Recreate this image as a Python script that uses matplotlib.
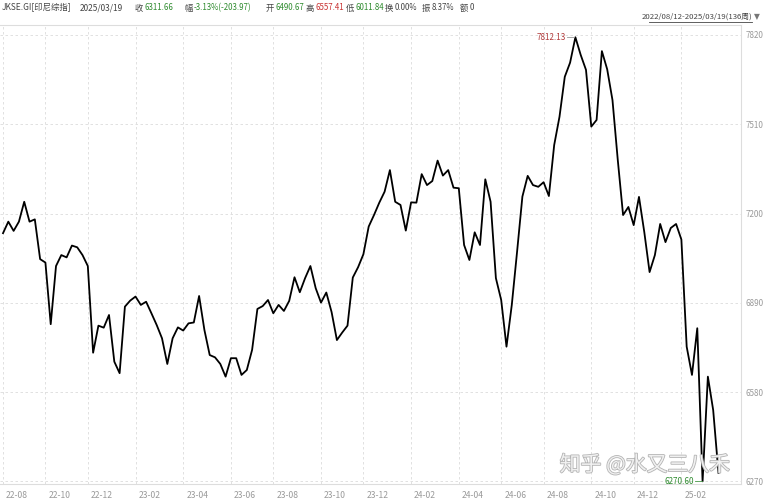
import matplotlib
matplotlib.use("Agg")
import matplotlib.pyplot as plt
import matplotlib.transforms as mtransforms
import matplotlib.patheffects as pe
import numpy as np

plt.rcParams['font.family'] = ['Noto Sans CJK SC', 'DejaVu Sans']

# weekly closes, JKSE 2022/08/12 - 2025/03/19 (136 weeks)
closes = [
    7132, 7172, 7140, 7172, 7241, 7172, 7180, 7042, 7030, 6816,
    7018, 7056, 7048, 7089, 7083, 7056, 7018, 6717, 6811, 6804,
    6848, 6686, 6646, 6877, 6898, 6912, 6883, 6894, 6854, 6813,
    6767, 6678, 6767, 6805, 6794, 6819, 6822, 6914, 6796, 6709,
    6701, 6678, 6634, 6698, 6698, 6640, 6657, 6727, 6869, 6879,
    6900, 6854, 6883, 6862, 6897, 6979, 6927, 6976, 7018, 6941,
    6891, 6926, 6858, 6761, 6787, 6811, 6978, 7014, 7059, 7155,
    7195, 7238, 7276, 7351, 7241, 7230, 7141, 7239, 7238, 7337,
    7299, 7313, 7384, 7332, 7351, 7290, 7288, 7091, 7039, 7135,
    7091, 7319, 7241, 6976, 6900, 6738, 6883, 7068, 7259, 7331,
    7299, 7293, 7309, 7261, 7438, 7536, 7675, 7724, 7812.13, 7751,
    7699, 7502, 7525, 7764, 7701, 7594, 7386, 7195, 7223, 7160,
    7258, 7136, 6997, 7056, 7164, 7101, 7150, 7164, 7110, 6738,
    6640, 6802, 6270.60, 6634, 6518, 6300,
]

month_labels = ['22-08', '22-10', '22-12', '23-02', '23-04', '23-06', '23-08', '23-10',
                '23-12', '24-02', '24-04', '24-06', '24-08', '24-10', '24-12', '25-02']
month_pos = [0, 8, 16, 25, 34, 43, 51, 60, 68, 77, 86, 94, 102, 111, 119, 128]
y_ticks = [6270, 6580, 6890, 7200, 7510, 7820]

# (label, value, value colour, x start in px)
header = [
    ('JKSE.GI[印尼综指]', '', None, 2),
    ('2025/03/19', '', None, 80),
    ('收', '6311.66', '#2e8b2e', 135),
    ('幅', '-3.13%(-203.97)', '#2e8b2e', 184),
    ('开', '6490.67', '#2e8b2e', 266),
    ('高', '6557.41', '#c83232', 306),
    ('低', '6011.84', '#2e8b2e', 346),
    ('换', '0.00%', '#444444', 385),
    ('振', '8.37%', '#444444', 422),
    ('额', '0', '#444444', 460),
]

W, H = 764, 500
fig = plt.figure(figsize=(W / 100, H / 100), dpi=100)
ax = fig.add_axes([0, 16 / H, 741 / W, (484 - 25) / H])

x = np.arange(len(closes))
ax.plot(x, closes, color='black', lw=1.3)

ax.set_xlim(-0.57, 139.25)
ax.set_ylim(6261.3, 7854.7)

ax.set_yticks(y_ticks)
ax.yaxis.tick_right()
ax.tick_params(axis='y', length=0, pad=3, labelsize=5.8, labelcolor='#9a9a9a')
ax.set_xticks(month_pos, month_labels)
ax.tick_params(axis='x', length=0, pad=5, labelsize=6.2, labelcolor='#9a9a9a')
offset = mtransforms.ScaledTranslation(3 / 100, 0, fig.dpi_scale_trans)
for lbl in ax.get_xticklabels():
    lbl.set_ha('left')
    lbl.set_transform(lbl.get_transform() + offset)

ax.grid(True, color='#dcdcdc', lw=0.6, linestyle=(0, (3, 3)))
for s in ax.spines.values():
    s.set_color('#dddddd')
    s.set_linewidth(0.8)
ax.spines['left'].set_visible(False)

# max / min markers
pk = int(np.argmax(closes))
lo = int(np.argmin(closes))
ax.plot([pk - 1.5, pk - 0.2], [closes[pk]] * 2, color='#999999', lw=0.6)
ax.text(pk - 1.7, closes[pk], f'{closes[pk]:.2f}', ha='right', va='center',
        fontsize=5.8, color='#b03a3a')
ax.plot([lo - 1.5, lo - 0.2], [closes[lo]] * 2, color='#4a9a4a', lw=0.6)
ax.text(lo - 1.7, closes[lo], f'{closes[lo]:.2f}', ha='right', va='center',
        fontsize=5.8, color='#2e8b2e')

# header line: label then value right after it
fig.canvas.draw()
renderer = fig.canvas.get_renderer()
for lab, val, col, px in header:
    t = fig.text(px / W, 1 - 8 / H, lab, ha='left', va='center', fontsize=6, color='#444444')
    if val:
        bb = t.get_window_extent(renderer)
        fig.text((bb.x1 + 1) / W, 1 - 8 / H, val, ha='left', va='center',
                 fontsize=5.7, color=col)

fig.text(752 / W, 1 - 17 / H, '2022/08/12-2025/03/19(136周)', ha='right', va='center',
         fontsize=5.6, color='#444444')
fig.add_artist(plt.Line2D([649 / W, 752 / W], [1 - 22 / H, 1 - 22 / H], color='#444444', lw=0.6))
fig.text(754 / W, 1 - 17 / H, '▼', ha='left', va='center', fontsize=5.5, color='#777777',
         family=['DejaVu Sans'])

# watermark
fig.text(645 / W, 1 - 465 / H, '知乎 @水又三八禾', ha='center', va='center', fontsize=15,
         color='#f4f4f4', alpha=0.95,
         path_effects=[pe.withStroke(linewidth=1.2, foreground='#b0b0b0')])

fig.savefig('out.png', dpi=100)
